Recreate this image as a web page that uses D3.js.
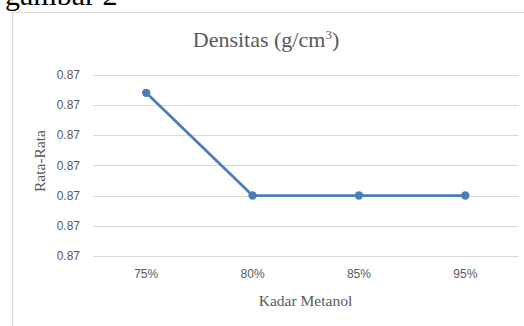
<!DOCTYPE html>
<html>
<head>
<meta charset="utf-8">
<script src="https://cdn.jsdelivr.net/npm/d3@7"></script>
<style>
  html, body { margin: 0; padding: 0; background: #fff; }
  svg { display: block; }
</style>
</head>
<body>
<svg id="chart" width="524" height="326"></svg>
<script>
const categories = ["75%", "80%", "85%", "95%"];
const values = [0.87054, 0.8702, 0.8702, 0.8702];
const yTicks = [0.8700, 0.8701, 0.8702, 0.8703, 0.8704, 0.8705, 0.8706];
const title = "Densitas (g/cm";
const xTitle = "Kadar Metanol";
const yTitle = "Rata-Rata";
const caption = "gambar 2";

const svg = d3.select("#chart");

// page caption (cut off at top, as in the source document)
svg.append("text")
  .attr("x", 5).attr("y", 4.5)
  .attr("font-family", "Liberation Serif, Times New Roman, serif")
  .attr("font-size", 30).attr("fill", "#000")
  .text(caption);

// chart frame
svg.append("path")
  .attr("d", "M12.5,330 V12.5 H530")
  .attr("fill", "none").attr("stroke", "#d9d9d9").attr("stroke-width", 1.2);

const x = d3.scaleBand().domain(categories).range([93, 518.5]);
const y = d3.scaleLinear().domain([0.8700, 0.8706]).range([256, 74.7]);

// gridlines
svg.append("g").selectAll("line").data(yTicks).join("line")
  .attr("x1", 93).attr("x2", 518.5)
  .attr("y1", d => Math.round(y(d)) + 0.5).attr("y2", d => Math.round(y(d)) + 0.5)
  .attr("stroke", "#d9d9d9").attr("stroke-width", 1);

// y axis labels
const yAxis = d3.axisLeft(y).tickValues(yTicks).tickFormat(d3.format(".2f")).tickSize(0).tickPadding(0);
const gy = svg.append("g").attr("transform", "translate(80,0)").call(yAxis);
gy.select(".domain").remove();
gy.selectAll("text")
  .attr("font-family", "Liberation Sans, Arial, sans-serif")
  .attr("font-size", 12).attr("fill", "#595959");

// x axis labels
const xAxis = d3.axisBottom(x).tickSize(0).tickPadding(0);
const gx = svg.append("g").attr("transform", "translate(0,269.5)").call(xAxis);
gx.select(".domain").remove();
gx.selectAll("text")
  .attr("font-family", "Liberation Sans, Arial, sans-serif")
  .attr("font-size", 12).attr("fill", "#595959");

// line
const line = d3.line()
  .x((d, i) => x(categories[i]) + x.bandwidth() / 2)
  .y(d => y(d));
svg.append("path").datum(values)
  .attr("d", line).attr("fill", "none")
  .attr("stroke", "#4a7ebb").attr("stroke-width", 2.75)
  .attr("stroke-linejoin", "round");

svg.append("g").selectAll("circle").data(values).join("circle")
  .attr("cx", (d, i) => x(categories[i]) + x.bandwidth() / 2)
  .attr("cy", d => y(d))
  .attr("r", 4.2).attr("fill", "#4a7ebb");

// title
const t = svg.append("text")
  .attr("x", 266).attr("y", 46.7).attr("text-anchor", "middle")
  .attr("font-family", "Liberation Serif, Times New Roman, serif")
  .attr("font-size", 22).attr("fill", "#595959");
t.append("tspan").text(title);
t.append("tspan").attr("font-size", 13).attr("dy", -8).text("3");
t.append("tspan").attr("dy", 8).text(")");

// axis titles
svg.append("text")
  .attr("x", 305.5).attr("y", 305.5).attr("text-anchor", "middle")
  .attr("font-family", "Liberation Serif, Times New Roman, serif")
  .attr("font-size", 15.5).attr("fill", "#595959")
  .text(xTitle);

svg.append("text")
  .attr("transform", "translate(45,161) rotate(-90)")
  .attr("text-anchor", "middle")
  .attr("font-family", "Liberation Serif, Times New Roman, serif")
  .attr("font-size", 15.5).attr("fill", "#595959")
  .text(yTitle);
</script>
</body>
</html>
